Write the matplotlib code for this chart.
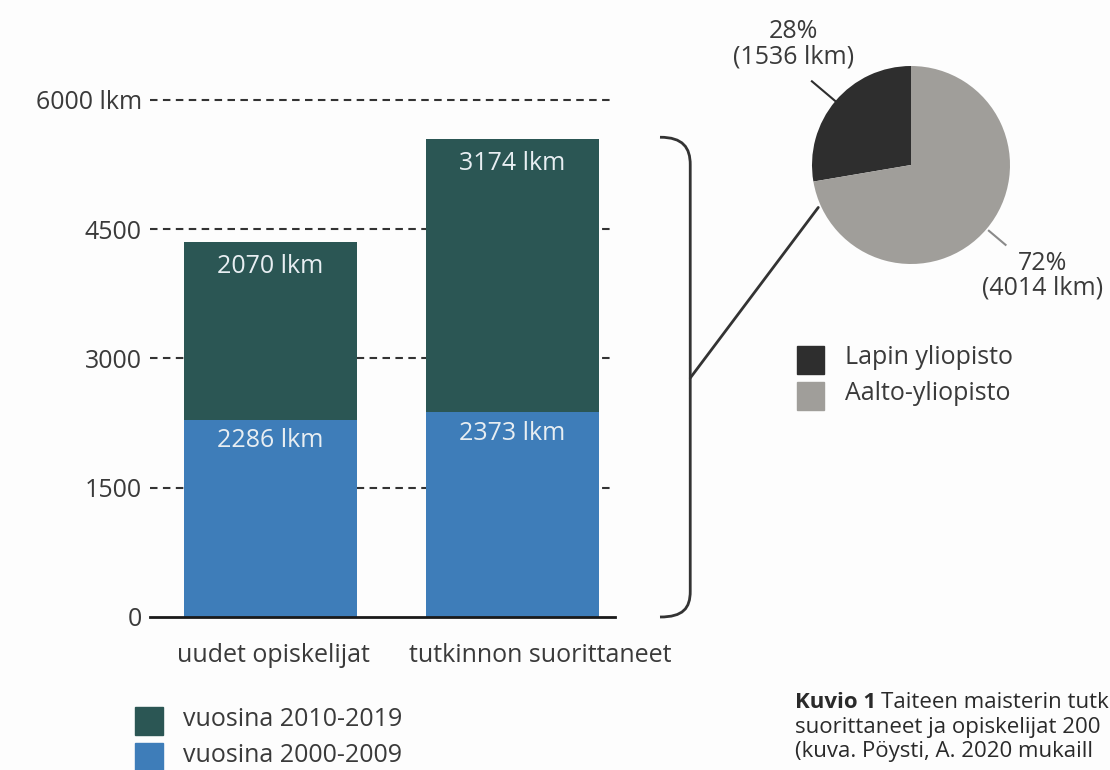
import matplotlib
matplotlib.use('Agg')
import matplotlib.pyplot as plt
import matplotlib.transforms as mtransforms
from matplotlib.path import Path
from matplotlib.patches import PathPatch, Rectangle, ConnectionPatch
import numpy as np

# data
ryhmat = ['uudet opiskelijat', 'tutkinnon suorittaneet']
v2000_2009 = [2286, 2373]
v2010_2019 = [2070, 3174]
sarjat = ['vuosina 2010-2019', 'vuosina 2000-2009']
yliopistot = ['Lapin yliopisto', 'Aalto-yliopisto']
yliopisto_lkm = [1536, 4014]
yticks = [0, 1500, 3000, 4500, 6000]
ytick_labels = ['0', '1500', '3000', '4500', '6000 lkm']
# kuvateksti katkeaa kuvan oikeaan reunaan kuten alkuperaisessa
kuvateksti = ['Taiteen maisterin tutk', 'suorittaneet ja opiskelijat 200',
              '(kuva. Pöysti, A. 2020 mukaill']

TEAL = '#2b5654'
BLUE = '#3e7db9'
DARK = '#2e2e2e'
GRAY = '#a09e9a'
TXT = '#3a3a3a'

plt.rcParams['font.family'] = ['Open Sans', 'DejaVu Sans']
FS = 18

W, H = 1110, 770
fig = plt.figure(figsize=(W / 100, H / 100), dpi=100, facecolor='#fdfdfd')

# overlay in pixel coords for the loose bits
ov = fig.add_axes([0, 0, 1, 1], zorder=0)
ov.set_xlim(0, W)
ov.set_ylim(H, 0)
ov.axis('off')
ov.patch.set_alpha(0)

##### pylvaat ########
ax = fig.add_axes([150 / W, (H - 617) / H, 465 / W, 530 / H], zorder=2)
ax.patch.set_alpha(0)
x = np.arange(len(ryhmat))
leveys = 0.715
ax.bar(x, v2000_2009, width=leveys, color=BLUE, zorder=3)
ax.bar(x, v2010_2019, width=leveys, bottom=v2000_2009, color=TEAL, zorder=3)
for i in range(len(x)):
    ax.annotate(f'{v2000_2009[i]} lkm', (x[i], v2000_2009[i]), xytext=(0, -6),
                textcoords='offset points', ha='center', va='top', color='#e8eef2', fontsize=FS, zorder=4)
    ax.annotate(f'{v2010_2019[i]} lkm', (x[i], v2000_2009[i] + v2010_2019[i]), xytext=(0, -9),
                textcoords='offset points', ha='center', va='top', color='#e8eef2', fontsize=FS, zorder=4)

ax.set_xlim(-0.498, 1.424)
ax.set_ylim(0, 6150)
ax.set_yticks(yticks)
ax.set_yticklabels(ytick_labels, fontsize=FS, color=TXT)
ax.set_xticks(x)
ax.set_xticklabels(ryhmat, fontsize=FS, color=TXT)
ax.tick_params(length=0, axis='y', pad=6)
ax.tick_params(length=0, axis='x', pad=19)
# toinen nimi on hieman oikealla kuvassa
for lab, dx in zip(ax.get_xticklabels(), [3, 28]):
    lab.set_transform(lab.get_transform() + mtransforms.ScaledTranslation(dx / 100, 0, fig.dpi_scale_trans))
for s in ax.spines.values():
    s.set_visible(False)
for yv in yticks[1:]:
    ax.axhline(yv, color='#333333', lw=1.5, ls=(0, (3.6, 2.6)), zorder=1, clip_on=False)
ax.axhline(0, color='#1a1a1a', lw=2, zorder=5, clip_on=False)

# aaltosulje tutkinnon suorittaneiden pylvaan viereen
top = v2000_2009[1] + v2010_2019[1]
bx0, bx1 = 1.61, 1.735
dy = 300
brace = Path([(bx0, top + 20), (bx1 - 0.03, top + 20), (bx1, top - 100), (bx1, top - dy),
              (bx1, dy), (bx1, 100), (bx1 - 0.03, 0), (bx0, 0)],
             [Path.MOVETO, Path.CURVE4, Path.CURVE4, Path.CURVE4,
              Path.LINETO, Path.CURVE4, Path.CURVE4, Path.CURVE4])
ax.add_patch(PathPatch(brace, fill=False, lw=2, ec='#333333', clip_on=False))

##### piirakka ########
axp = fig.add_axes([812 / W, (H - 264) / H, 198 / W, 198 / H], zorder=2)
wedges, _ = axp.pie(yliopisto_lkm, colors=[DARK, GRAY], startangle=90, counterclock=True, radius=1)
axp.set_xlim(-1, 1)
axp.set_ylim(-1, 1)
axp.set_aspect('equal')
axp.axis('off')

osuus = np.array(yliopisto_lkm) / sum(yliopisto_lkm) * 100
kulmat = []
a0 = 90
for o in osuus:
    kulmat.append(np.deg2rad(a0 + o * 3.6 / 2))
    a0 += o * 3.6
# viivat
r_in = [0.99, 1.03]
r_out = [1.31, 1.25]
vari = [DARK, '#8a8a8a']
for k in range(2):
    axp.plot([r_in[k] * np.cos(kulmat[k]), r_out[k] * np.cos(kulmat[k])],
             [r_in[k] * np.sin(kulmat[k]), r_out[k] * np.sin(kulmat[k])],
             color=vari[k], lw=1.5, clip_on=False)
axp.text(-1.19, 1.22, f'{osuus[0]:.0f}%\n({yliopisto_lkm[0]} lkm)', ha='center', va='center',
         fontsize=FS, color=TXT, linespacing=1.0, clip_on=False)
axp.text(1.33, -1.12, f'{osuus[1]:.0f}%\n({yliopisto_lkm[1]} lkm)', ha='center', va='center',
         fontsize=FS, color=TXT, linespacing=1.0, clip_on=False)

# yhdysviiva sulkeesta piirakkaan
ang = np.deg2rad(204.6)
con = ConnectionPatch(xyA=(bx1, top / 2), coordsA=ax.transData,
                      xyB=(1.03 * np.cos(ang), 1.03 * np.sin(ang)), coordsB=axp.transData,
                      color='#333333', lw=2)
fig.add_artist(con)

##### selitteet ########
for k, (lab, c) in enumerate(zip(yliopistot, [DARK, GRAY])):
    y0 = 346 + k * 36
    ov.add_patch(Rectangle((797, y0), 27, 28, color=c))
    ov.text(845, y0 + 12, lab, va='center', ha='left', fontsize=FS, color=TXT)

for k, (lab, c) in enumerate(zip(sarjat, [TEAL, BLUE])):
    y0 = 707 + k * 36
    ov.add_patch(Rectangle((135, y0), 28, 28, color=c))
    ov.text(183, y0 + 12, lab, va='center', ha='left', fontsize=FS, color=TXT)

##### kuvateksti ########
CFS = 16
t0 = ov.text(795, 703, 'Kuvio 1', fontweight='bold', fontsize=CFS, color='#2a2a2a', va='center', ha='left')
r = fig.canvas.get_renderer()
bb = t0.get_window_extent(renderer=r)
ov.text(795 + bb.width + 5, 703, kuvateksti[0], fontsize=CFS, color='#2a2a2a', va='center', ha='left')
ov.text(795, 727, kuvateksti[1], fontsize=CFS, color='#2a2a2a', va='center', ha='left')
ov.text(795, 751, kuvateksti[2], fontsize=CFS, color='#2a2a2a', va='center', ha='left')

fig.savefig('out.png', dpi=100, facecolor=fig.get_facecolor())
